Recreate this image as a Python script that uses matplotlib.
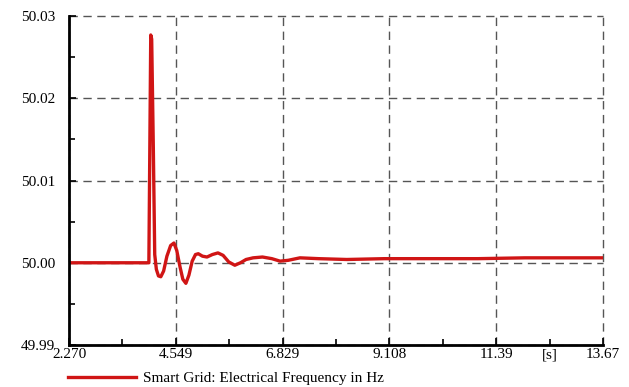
import numpy as np
import matplotlib.pyplot as plt

# time [s] and frequency [Hz]
t = [2.270, 3.960, 3.975, 4.015, 4.035, 4.070, 4.100, 4.135, 4.180, 4.230,
     4.290, 4.360, 4.440, 4.510, 4.570, 4.640, 4.700, 4.765, 4.830, 4.900,
     4.970, 5.030, 5.120, 5.216, 5.330, 5.450, 5.560, 5.680, 5.810, 5.930,
     6.050, 6.200, 6.400, 6.600, 6.774, 6.950, 7.200, 7.600, 8.200, 9.000,
     10.000, 11.000, 12.000, 13.000, 13.670]
freq = [50.0000, 50.0000, 50.0000, 50.0277, 50.0272, 50.0140, 50.0010, 49.9992, 49.9984, 49.9983,
        49.9990, 50.0008, 50.0021, 50.0024, 50.0015, 49.9995, 49.9980, 49.9975, 49.9985, 50.0002,
        50.0010, 50.0011, 50.0008, 50.0007, 50.0010, 50.0012, 50.0009, 50.0001, 49.9997, 50.0000,
        50.0004, 50.0006, 50.0007, 50.0005, 50.0002, 50.0003, 50.0006, 50.0005, 50.0004, 50.0005,
        50.0005, 50.0005, 50.0006, 50.0006, 50.0006]

xticks = [2.270, 4.549, 6.829, 9.108, 11.39, 13.67]
xlabels = ["2.270", "4.549", "6.829", "9.108", "11.39", "13.67"]
yticks = [49.99, 50.00, 50.01, 50.02, 50.03]

plt.rcParams['font.family'] = ['Liberation Serif', 'DejaVu Serif']

fig = plt.figure(figsize=(6.29, 3.87), dpi=100)
ax = fig.add_axes([0.1097, 0.1085, 0.849, 0.850])

ax.plot(t, freq, color='#d01515', lw=2.4, label='Smart Grid: Electrical Frequency in Hz')

ax.set_xlim(xticks[0], xticks[-1])
ax.set_ylim(49.99, 50.03)
ax.set_xticks(xticks)
ax.set_xticklabels(xlabels)
ax.set_yticks(yticks)
ax.set_yticklabels(["%.2f" % v for v in yticks])
mx = [(xticks[i] + xticks[i + 1]) / 2 for i in range(len(xticks) - 1)]
ax.set_xticks(mx, minor=True)
ax.set_yticks([v + 0.005 for v in yticks[:-1]], minor=True)

ax.grid(True, which='major', color='#555555', lw=1, linestyle=(0, (6, 4)))
for gl in ax.get_xgridlines() + ax.get_ygridlines():
    gl.set_clip_on(False)
for s in ['top', 'right']:
    ax.spines[s].set_visible(False)
for s in ['left', 'bottom']:
    ax.spines[s].set_linewidth(2)
ax.tick_params(which='both', direction='in', labelsize=11, colors='black', width=1.2)
ax.tick_params(which='major', length=5)
ax.tick_params(which='minor', length=4)
ax.tick_params(axis='x', pad=2)
ax.tick_params(axis='y', pad=10)

ax.text(mx[-1], -0.012, '[s]', transform=ax.get_xaxis_transform(),
        ha='center', va='top', fontsize=11)

ax.legend(loc='upper left', bbox_to_anchor=(-0.0125, -0.062), frameon=False,
          fontsize=11, handlelength=4.4, handletextpad=0.5, borderaxespad=0)

fig.savefig('out.png', dpi=100)
